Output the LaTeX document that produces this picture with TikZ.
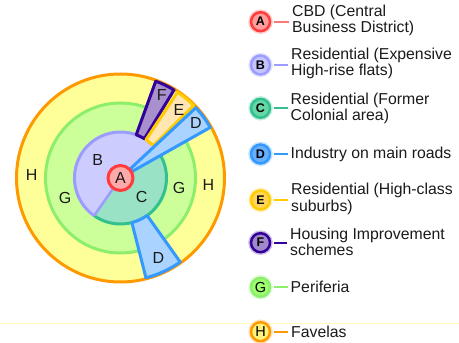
\documentclass[tikz,border=0pt]{standalone}
\usepackage{fontspec}
\setmainfont{Liberation Sans}
\usetikzlibrary{calc}

% zone colours: fill / outline
\definecolor{Afill}{HTML}{FFAAAA}\definecolor{Aline}{HTML}{FF3B3B}
\definecolor{Bfill}{HTML}{CCCCFF}\definecolor{Bline}{HTML}{9C9CFF}
\definecolor{Cfill}{HTML}{99E2C6}\definecolor{Cline}{HTML}{33C08F}
\definecolor{Dfill}{HTML}{AAD4FF}\definecolor{Dline}{HTML}{3399FF}
\definecolor{Efill}{HTML}{FFE6B3}\definecolor{Eline}{HTML}{FFCC00}
\definecolor{Ffill}{HTML}{A890CC}\definecolor{Fline}{HTML}{33009A}
\definecolor{Gfill}{HTML}{CCFF99}\definecolor{Gline}{HTML}{8CEE6C}
\definecolor{Hfill}{HTML}{FFFF99}\definecolor{Hline}{HTML}{FF9900}
% key bullet fills
\definecolor{kA}{HTML}{FF9C9C}\definecolor{kB}{HTML}{C4C4FF}
\definecolor{kC}{HTML}{66D6A6}\definecolor{kD}{HTML}{66B0FF}
\definecolor{kE}{HTML}{FFD65A}\definecolor{kF}{HTML}{A08ACC}
\definecolor{kG}{HTML}{9CFF6E}\definecolor{kH}{HTML}{FFF27A}
\definecolor{rule}{HTML}{FFFFB8}
\definecolor{ink}{HTML}{1A1A1A}

\begin{document}
\begin{tikzpicture}[
  zone/.style={line width=3pt, line join=round},
  lbl/.style={inner sep=0pt, text=ink, font=\fontsize{16}{17}\selectfont},
  key/.style={circle, minimum size=19pt, inner sep=0pt, line width=2.5pt,
    text=black, font=\fontsize{12.5}{13}\selectfont\bfseries,
    preaction={draw=#1, line width=5.5pt, opacity=0.25}},
  keytext/.style={anchor=west, align=left, inner sep=0pt, text=ink,
    font=\fontsize{15.8}{16.6}\selectfont},
  keyline/.style={line width=2pt, shorten <=2.5pt, shorten >=3pt}
]
\useasboundingbox (0,0) rectangle (459pt,343pt);

% faint rule across the foot of the key
\coordinate (ruleL) at (0,19.7pt);
\coordinate (ruleR) at (459pt,19.7pt);
\draw[rule, line width=1.5pt] (ruleL) -- (ruleR);

% ---------------- concentric city model ----------------
\coordinate (O) at (120.5pt,165pt);
\draw[zone, draw=Hline, fill=Hfill] (O) circle[radius=104pt];
\draw[zone, draw=Gline, fill=Gfill] (O) circle[radius=75pt];

\begin{scope}[shift={(O)}]
  % inner residential halves
  \fill[Bfill] (0,0) -- (43:46pt) arc[start angle=43, end angle=235, radius=46pt] -- cycle;
  \fill[Cfill] (0,0) -- (235:46pt) arc[start angle=235, end angle=389.4, radius=46pt] -- cycle;
  \draw[zone, Bline] (43:46pt) arc[start angle=43, end angle=235, radius=46pt];
  \draw[zone, Cline] (235:46pt) arc[start angle=235, end angle=389.4, radius=46pt];
  \draw[Bline, line width=2.5pt] (0,0) -- (235:46pt);

  % housing improvement schemes
  \draw[zone, draw=Fline, fill=Ffill] (58.7:46pt) -- (58.7:103pt)
    arc[start angle=58.7, end angle=70, radius=103pt] -- (70:46pt)
    arc[start angle=70, end angle=58.7, radius=46pt] -- cycle;
  % high-class suburbs
  \draw[zone, draw=Eline, fill=Efill] (44.7:46pt) -- (44.7:103pt)
    arc[start angle=44.7, end angle=56.4, radius=103pt] -- (56.4:46pt)
    arc[start angle=56.4, end angle=44.7, radius=46pt] -- cycle;
  % industry along the main roads
  \draw[zone, draw=Dline, fill=Dfill] (0,0) -- (29.4:103pt)
    arc[start angle=29.4, end angle=43, radius=103pt] -- cycle;
  \draw[zone, draw=Dline, fill=Dfill] (-75.7:46pt) -- (-75.7:103pt)
    arc[start angle=-75.7, end angle=-54.6, radius=103pt] -- (-54.6:46pt)
    arc[start angle=-54.6, end angle=-75.7, radius=46pt] -- cycle;
\end{scope}

% central business district
\draw[line width=3pt, draw=Aline, fill=Afill] (O) circle[radius=12.5pt];

% zone letters
\node[lbl] (zA)  at (O) {A};
\node[lbl] (zB)  at (97.7pt,183pt) {B};
\node[lbl] (zC)  at (141.7pt,146.3pt) {C};
\node[lbl] (zG1) at (65pt,144.7pt) {G};
\node[lbl] (zG2) at (179pt,154.7pt) {G};
\node[lbl] (zH1) at (31.7pt,168pt) {H};
\node[lbl] (zH2) at (208.3pt,158pt) {H};
\node[lbl] (zD1) at (196pt,219.7pt) {D};
\node[lbl] (zD2) at (158.3pt,84.7pt) {D};
\node[lbl] (zE)  at (179pt,233pt) {E};
\node[lbl] (zF)  at (161.7pt,248pt) {F};

% ---------------- key ----------------
\node[key=Aline, draw=Aline, fill=kA] (kA) at (260.5pt,321.3pt) {A};
\node[key=Bline, draw=Bline, fill=kB] (kB) at (260.5pt,278pt) {B};
\node[key=Cline, draw=Cline, fill=kC] (kC) at (260.5pt,234.7pt) {C};
\node[key=Dline, draw=Dline, fill=kD] (kD) at (260.5pt,189pt) {D};
\node[key=Eline, draw=Eline, fill=kE] (kE) at (260.5pt,143pt) {E};
\node[key=Fline, draw=Fline, fill=kF] (kF) at (260.5pt,100.3pt) {F};
\node[key=Gline, draw=Gline, fill=kG, font=\fontsize{14.5}{15}\selectfont] (kG) at (260.5pt,55.7pt) {G};
\node[key=Hline, draw=Hline, fill=kH, font=\fontsize{14.5}{15}\selectfont] (kH) at (260.5pt,11.3pt) {H};

\node[keytext] (tA) at (292pt,322.5pt) {CBD (Central\\Business District)};
\node[keytext] (tB) at (291pt,279.5pt) {Residential (Expensive\\High-rise flats)};
\node[keytext] (tC) at (290.5pt,234.5pt) {Residential (Former\\Colonial area)};
\node[keytext] (tD) at (290.5pt,189pt) {Industry on main roads};
\node[keytext] (tE) at (291pt,144pt) {Residential (High-class\\suburbs)};
\node[keytext] (tF) at (290pt,101pt) {Housing Improvement\\schemes};
\node[keytext] (tG) at (290.5pt,55.7pt) {Periferia};
\node[keytext] (tH) at (291pt,11.3pt) {Favelas};

\draw[keyline, draw=Aline!70] (kA.east) -- (kA.east -| tA.west);
\draw[keyline, draw=Bline] (kB.east) -- (kB.east -| tB.west);
\draw[keyline, draw=Cline] (kC.east) -- (kC.east -| tC.west);
\draw[keyline, draw=Dline] (kD.east) -- (kD.east -| tD.west);
\draw[keyline, draw=Eline] (kE.east) -- (kE.east -| tE.west);
\draw[keyline, draw=Fline] (kF.east) -- (kF.east -| tF.west);
\draw[keyline, draw=Gline] (kG.east) -- (kG.east -| tG.west);
\draw[keyline, draw=Hline] (kH.east) -- (kH.east -| tH.west);
\end{tikzpicture}
\end{document}
